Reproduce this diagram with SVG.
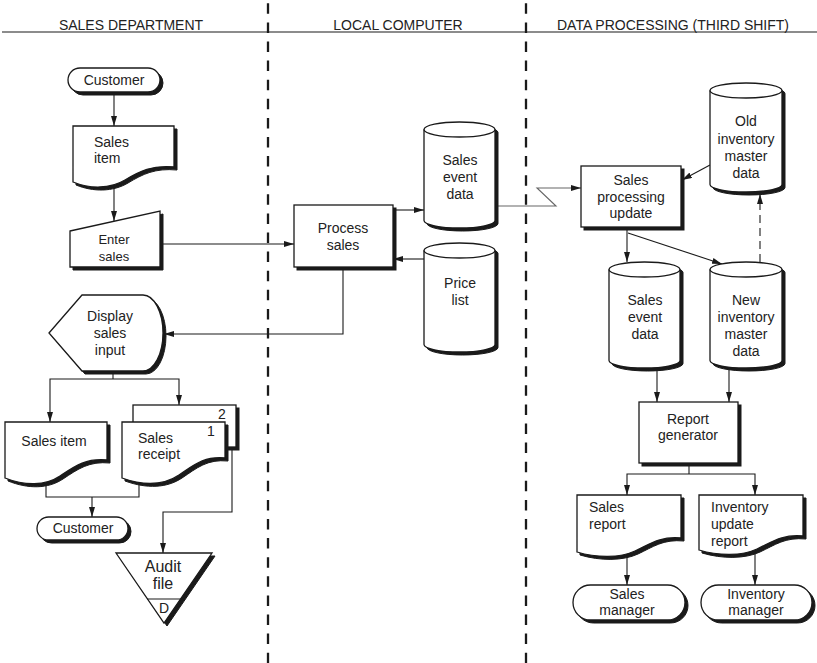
<svg xmlns="http://www.w3.org/2000/svg" xmlns:xlink="http://www.w3.org/1999/xlink" width="817" height="663" viewBox="0 0 817 663">
<style>
  text { font-family: "Liberation Sans", Arial, sans-serif; font-size: 14px; fill: #222; }
  .hd { font-size: 14px; text-anchor: middle; }
  .c { text-anchor: middle; }
  .sm { font-size: 13px; }
  .big { font-size: 16px; }
  .shape { fill: #fff; stroke: #1a1a1a; stroke-width: 1.3; }
  .sh { fill: #1a1a1a; stroke: #1a1a1a; stroke-width: 1; }
  .ln { fill: none; stroke: #1a1a1a; stroke-width: 1.1; }
  .lane { fill: none; stroke: #1a1a1a; stroke-width: 2.3; stroke-dasharray: 10.5 8.6; }
  .conn { fill: none; stroke: #1a1a1a; stroke-width: 1.1; }
  .gray { stroke: #666; }
  .dash { stroke-dasharray: 8 5; }
</style>
<defs>
  <marker id="ah" viewBox="0 0 10 6" refX="10" refY="3" markerWidth="10" markerHeight="6" markerUnits="userSpaceOnUse" orient="auto">
    <path d="M0,0 L10,3 L0,6 Z" fill="#1a1a1a"/>
  </marker>
</defs>
<rect width="817" height="663" fill="#fff"/>

<g id="lanes">
  <line class="ln" x1="2" y1="32" x2="817" y2="32"/>
  <line class="lane" x1="268" y1="3.3" x2="268" y2="663"/>
  <line class="lane" x1="526" y1="3.3" x2="526" y2="663"/>
  <text class="hd" x="131" y="29.5">SALES DEPARTMENT</text>
  <text class="hd" x="398" y="29.5">LOCAL COMPUTER</text>
  <text class="hd" x="673" y="29.5">DATA PROCESSING (THIRD SHIFT)</text>
</g>

<g id="connectors">
  <path class="conn" d="M114,92 V126" marker-end="url(#ah)"/>
  <path class="conn" d="M114,188 V221" marker-end="url(#ah)"/>
  <path class="conn" d="M160,244 H294" marker-end="url(#ah)"/>
  <path class="conn" d="M393,210 H424" marker-end="url(#ah)"/>
  <path class="conn" d="M424,259 H393" marker-end="url(#ah)"/>
  <path class="conn" d="M343,267 V334 H164" marker-end="url(#ah)"/>
  <path class="conn" d="M113,370 V379"/>
  <path class="conn" d="M113,379 H50 V422" marker-end="url(#ah)"/>
  <path class="conn" d="M113,379 H179 V405" marker-end="url(#ah)"/>
  <path class="conn" d="M46,484 V497 H139 V484"/>
  <path class="conn" d="M92,497 V517" marker-end="url(#ah)"/>
  <path class="conn" d="M232,447 V512 H163 V553" marker-end="url(#ah)"/>
  <path class="conn gray" d="M495,206 H556 L537,188 H581" marker-end="url(#ah)"/>
  <path class="conn" d="M710,165 L682,180" marker-end="url(#ah)"/>
  <path class="conn" d="M627,227 V262" marker-end="url(#ah)"/>
  <path class="conn" d="M628,233 L722,264" marker-end="url(#ah)"/>
  <path class="conn dash" d="M760,262 V194" marker-end="url(#ah)"/>
  <path class="conn" d="M657,368 V402" marker-end="url(#ah)"/>
  <path class="conn" d="M729,368 V402" marker-end="url(#ah)"/>
  <path class="conn" d="M689,463 V474"/>
  <path class="conn" d="M689,474 H627 V495" marker-end="url(#ah)"/>
  <path class="conn" d="M689,474 H755 V495" marker-end="url(#ah)"/>
  <path class="conn" d="M627,554 V585" marker-end="url(#ah)"/>
  <path class="conn" d="M755,547 V585" marker-end="url(#ah)"/>
</g>

<g id="customer-top">
  <rect class="sh" x="71" y="71" width="92" height="24" rx="12"/>
  <rect class="shape" x="68" y="68" width="92" height="24" rx="12"/>
  <text class="c" x="114" y="85">Customer</text>
</g>

<g id="sales-item-top">
  <path class="sh" transform="translate(3,3)" d="M73,126 H174 V167 C152,165 140,171 125,180 C110,189 90,189 73,182 Z"/>
  <path class="shape" d="M73,126 H174 V167 C152,165 140,171 125,180 C110,189 90,189 73,182 Z"/>
  <text x="94" y="147">Sales</text>
  <text x="94" y="163">item</text>
</g>

<g id="enter-sales">
  <path class="sh" transform="translate(3,3)" d="M70,231 L160,211 V267 H70 Z"/>
  <path class="shape" d="M70,231 L160,211 V267 H70 Z"/>
  <text class="c sm" x="114" y="244">Enter</text>
  <text class="c sm" x="114" y="261">sales</text>
</g>

<g id="process-sales">
  <rect class="sh" x="297" y="208" width="99" height="62"/>
  <rect class="shape" x="294" y="205" width="99" height="62"/>
  <text class="c" x="343" y="233">Process</text>
  <text class="c" x="343" y="250">sales</text>
</g>

<g id="sales-event-local">
  <path class="sh" transform="translate(3,3)" d="M424,129.5 A35.5,7.5 0 0 1 495,129.5 V220.5 A35.5,7.5 0 0 1 424,220.5 Z"/>
  <path class="shape" d="M424,129.5 A35.5,7.5 0 0 1 495,129.5 V220.5 A35.5,7.5 0 0 1 424,220.5 Z"/>
  <path class="shape" style="fill:none" d="M424,129.5 A35.5,7.5 0 0 0 495,129.5"/>
  <text class="c" x="460" y="165">Sales</text>
  <text class="c" x="460" y="182">event</text>
  <text class="c" x="460" y="199">data</text>
</g>

<g id="price-list">
  <path class="sh" transform="translate(3,3)" d="M424,250.5 A35.5,7.5 0 0 1 495,250.5 V344.5 A35.5,7.5 0 0 1 424,344.5 Z"/>
  <path class="shape" d="M424,250.5 A35.5,7.5 0 0 1 495,250.5 V344.5 A35.5,7.5 0 0 1 424,344.5 Z"/>
  <path class="shape" style="fill:none" d="M424,250.5 A35.5,7.5 0 0 0 495,250.5"/>
  <text class="c" x="460" y="288">Price</text>
  <text class="c" x="460" y="305">list</text>
</g>

<g id="display-sales-input">
  <path class="sh" transform="translate(3,3)" d="M49,333 L82,295 H143 A20,38 0 0 1 143,371 H82 Z"/>
  <path class="shape" d="M49,333 L82,295 H143 A20,38 0 0 1 143,371 H82 Z"/>
  <text class="c" x="110" y="321">Display</text>
  <text class="c" x="110" y="338">sales</text>
  <text class="c" x="110" y="355">input</text>
</g>

<g id="sales-item-bottom">
  <path class="sh" transform="translate(3,3)" d="M5,422 H107 V460 C86,458 75,466 60,476 C45,486 25,486 5,478 Z"/>
  <path class="shape" d="M5,422 H107 V460 C86,458 75,466 60,476 C45,486 25,486 5,478 Z"/>
  <text class="c" x="54" y="446">Sales item</text>
</g>

<g id="sales-receipt">
  <rect class="sh" x="136" y="408" width="103" height="42"/>
  <rect class="shape" x="133" y="405" width="103" height="42"/>
  <text class="c" x="222" y="419">2</text>
  <path class="sh" transform="translate(3,3)" d="M122,422 H225 V458 C204,456 194,465 179,475 C164,485 144,486 122,478 Z"/>
  <path class="shape" d="M122,422 H225 V458 C204,456 194,465 179,475 C164,485 144,486 122,478 Z"/>
  <text class="c" x="211" y="436">1</text>
  <text x="138" y="443">Sales</text>
  <text x="138" y="459">receipt</text>
</g>

<g id="customer-bottom">
  <rect class="sh" x="40" y="520" width="91" height="23" rx="11.5"/>
  <rect class="shape" x="37" y="517" width="91" height="23" rx="11.5"/>
  <text class="c" x="83" y="533">Customer</text>
</g>

<g id="audit-file">
  <path class="sh" transform="translate(3,3)" d="M116,553 H212 L164,623 Z"/>
  <path class="shape" d="M116,553 H212 L164,623 Z"/>
  <line class="ln" x1="147" y1="599" x2="180.5" y2="599"/>
  <text class="c big" x="163" y="572">Audit</text>
  <text class="c big" x="163" y="589">file</text>
  <text class="c" x="164" y="613">D</text>
</g>

<g id="sales-processing-update">
  <rect class="sh" x="584" y="169" width="100" height="61"/>
  <rect class="shape" x="581" y="166" width="100" height="61"/>
  <text class="c" x="631" y="185">Sales</text>
  <text class="c" x="631" y="201.5">processing</text>
  <text class="c" x="631" y="218">update</text>
</g>

<g id="old-inventory">
  <path class="sh" transform="translate(3,3)" d="M710,90.5 A36,7.5 0 0 1 782,90.5 V184.5 A36,7.5 0 0 1 710,184.5 Z"/>
  <path class="shape" d="M710,90.5 A36,7.5 0 0 1 782,90.5 V184.5 A36,7.5 0 0 1 710,184.5 Z"/>
  <path class="shape" style="fill:none" d="M710,90.5 A36,7.5 0 0 0 782,90.5"/>
  <text class="c" x="746" y="126">Old</text>
  <text class="c" x="746" y="143.5">inventory</text>
  <text class="c" x="746" y="161">master</text>
  <text class="c" x="746" y="178">data</text>
</g>

<g id="sales-event-dp">
  <path class="sh" transform="translate(3,3)" d="M609,269.5 A35.5,7.5 0 0 1 680,269.5 V360.5 A35.5,7.5 0 0 1 609,360.5 Z"/>
  <path class="shape" d="M609,269.5 A35.5,7.5 0 0 1 680,269.5 V360.5 A35.5,7.5 0 0 1 609,360.5 Z"/>
  <path class="shape" style="fill:none" d="M609,269.5 A35.5,7.5 0 0 0 680,269.5"/>
  <text class="c" x="645" y="305">Sales</text>
  <text class="c" x="645" y="322">event</text>
  <text class="c" x="645" y="339">data</text>
</g>

<g id="new-inventory">
  <path class="sh" transform="translate(3,3)" d="M710,269.5 A36,7.5 0 0 1 782,269.5 V360.5 A36,7.5 0 0 1 710,360.5 Z"/>
  <path class="shape" d="M710,269.5 A36,7.5 0 0 1 782,269.5 V360.5 A36,7.5 0 0 1 710,360.5 Z"/>
  <path class="shape" style="fill:none" d="M710,269.5 A36,7.5 0 0 0 782,269.5"/>
  <text class="c" x="746" y="305">New</text>
  <text class="c" x="746" y="322">inventory</text>
  <text class="c" x="746" y="339">master</text>
  <text class="c" x="746" y="356">data</text>
</g>

<g id="report-generator">
  <rect class="sh" x="642" y="405" width="99" height="61"/>
  <rect class="shape" x="639" y="402" width="99" height="61"/>
  <text class="c" x="688" y="424">Report</text>
  <text class="c" x="688" y="440">generator</text>
</g>

<g id="sales-report">
  <path class="sh" transform="translate(3,3)" d="M577,495 H681 V538 C660,536 650,544 635,551 C620,558 597,558 577,552 Z"/>
  <path class="shape" d="M577,495 H681 V538 C660,536 650,544 635,551 C620,558 597,558 577,552 Z"/>
  <text x="589" y="512">Sales</text>
  <text x="589" y="529">report</text>
</g>

<g id="inventory-update-report">
  <path class="sh" transform="translate(3,3)" d="M699,495 H803 V536 C782,534 772,542 757,549 C742,556 719,556 699,550 Z"/>
  <path class="shape" d="M699,495 H803 V536 C782,534 772,542 757,549 C742,556 719,556 699,550 Z"/>
  <text x="711" y="512">Inventory</text>
  <text x="711" y="529">update</text>
  <text x="711" y="546">report</text>
</g>

<g id="sales-manager">
  <rect class="sh" x="576" y="588" width="112" height="35" rx="17.5"/>
  <rect class="shape" x="573" y="585" width="112" height="35" rx="17.5"/>
  <text class="c" x="627" y="599">Sales</text>
  <text class="c" x="627" y="615">manager</text>
</g>

<g id="inventory-manager">
  <rect class="sh" x="704" y="588" width="111" height="35" rx="17.5"/>
  <rect class="shape" x="701" y="585" width="111" height="35" rx="17.5"/>
  <text class="c" x="756" y="599">Inventory</text>
  <text class="c" x="756" y="615">manager</text>
</g>
</svg>
